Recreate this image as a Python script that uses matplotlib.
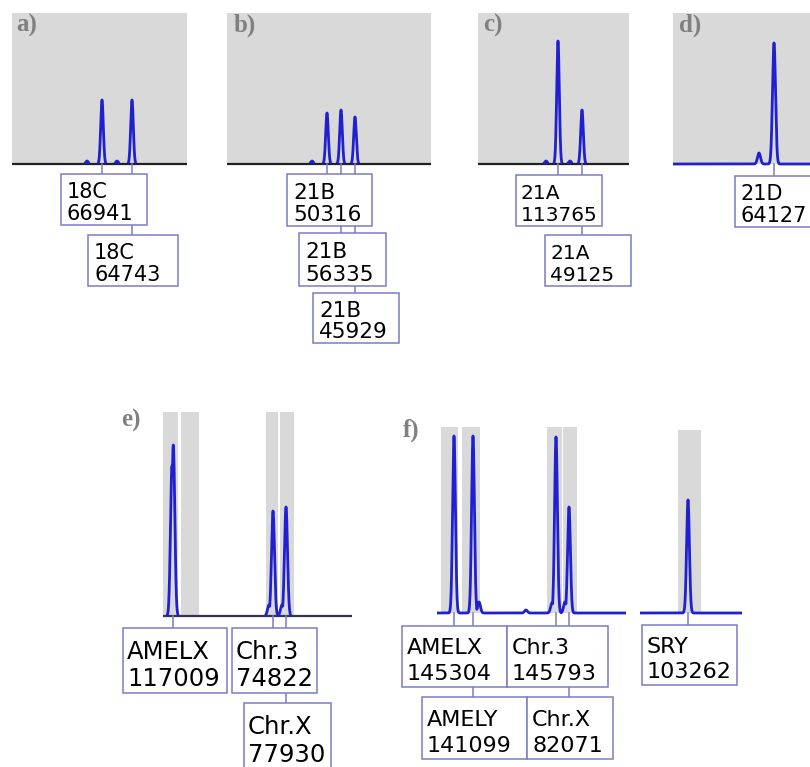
import numpy as np
import matplotlib.pyplot as plt
from matplotlib.patches import Rectangle

W, H = 810, 767

# ---- data: peak positions (px from panel left), heights (px above baseline), labels
# a) 18C
a_pos = [90, 120]
a_height = [64, 64]
a_minor_pos = [75, 105]
a_minor_height = [3, 3]
a_names = ['18C', '18C']
a_values = ['66941', '64743']

# b) 21B
b_pos = [100, 114, 128]
b_height = [51, 54, 47]
b_minor_pos = [85]
b_minor_height = [3]
b_names = ['21B', '21B', '21B']
b_values = ['50316', '56335', '45929']

# c) 21A
c_pos = [80, 104]
c_height = [123, 54]
c_minor_pos = [68, 92]
c_minor_height = [3, 3]
c_names = ['21A', '21A']
c_values = ['113765', '49125']

# d) 21D
d_pos = [101]
d_height = [121]
d_minor_pos = [86]
d_minor_height = [11]
d_names = ['21D']
d_values = ['64127']

# e) amelogenin / chr.3 / chr.X
e_pos = [10.3, 110, 123]
e_height = [171, 105, 109]
e_minor_pos = [9, 106, 119]
e_minor_height = [150, 11, 11]
e_names = ['AMELX', 'Chr.3', 'Chr.X']
e_values = ['117009', '74822', '77930']
e_bins = [(0, 15), (18, 36), (103, 115), (117, 131)]

# f) amelogenin / chr.3 / chr.X + SRY
f_pos = [17, 36, 119, 132]
f_height = [177, 177, 176, 106]
f_minor_pos = [42, 89, 115, 128]
f_minor_height = [11, 3, 10, 11]
f_names = ['AMELX', 'AMELY', 'Chr.3', 'Chr.X']
f_values = ['145304', '141099', '145793', '82071']
f_bins = [(4, 21), (25, 43), (110, 125), (126, 140)]

sry_pos = [48]
sry_height = [113]
sry_names = ['SRY']
sry_values = ['103262']
sry_bins = [(38, 61)]

# ---- styles
blue = '#2020d0'
grey = '#d9d9d9'
edge = '#7b7bc8'
letter_col = '#808080'

fig = plt.figure(figsize=(W / 100, H / 100), dpi=100)

ov = fig.add_axes([0, 0, 1, 1], zorder=5)
ov.set_xlim(0, W)
ov.set_ylim(H, 0)
ov.axis('off')
ov.patch.set_alpha(0)


def panel_axes(left, top, right, base, pad=4):
    ax = fig.add_axes([left / W, 1 - (base + pad) / H, (right - left) / W, (base + pad - top) / H])
    ax.set_xlim(0, right - left)
    ax.set_ylim(-pad, base - top)
    ax.axis('off')
    return ax


def trace(ax, pos, height, mpos, mheight, sigma=1.3, color=blue, base_col=None, lw=2.0):
    x = np.linspace(0, ax.get_xlim()[1], 4000)
    parts = [h * np.exp(-0.5 * ((x - p) / sigma) ** 2) for p, h in zip(pos + mpos, height + mheight)]
    y = np.max(parts, axis=0)
    if base_col is not None:
        ax.axhline(0, color=base_col, lw=1.6, zorder=2)
        y = np.where(y < 0.5, np.nan, y)
    ax.plot(x, y, color=color, lw=lw, zorder=3, solid_capstyle='butt')


def to_ov(ax, p):
    return ov.transData.inverted().transform(ax.transData.transform((p, 0)))


def labels(ax, pos, names, values, boxes, chains, fs, padx=6, f1=0.48, f2=0.9):
    for (l, t, r, b), n, v in zip(boxes, names, values):
        ov.add_patch(Rectangle((l, t), r - l, b - t, fc='white', ec=edge, lw=1.1, zorder=3))
        ov.text(l + padx, t + f1 * (b - t), n, fontsize=fs, family='DejaVu Sans', va='baseline', zorder=4)
        ov.text(l + padx, t + f2 * (b - t), v, fontsize=fs, family='DejaVu Sans', va='baseline', zorder=4)
    for p, chain in zip(pos, chains):
        x, y0 = to_ov(ax, p)
        ov.plot([x, x], [y0, boxes[chain[0]][1]], color=edge, lw=1.1, zorder=2)
        for i, j in zip(chain[:-1], chain[1:]):
            ov.plot([x, x], [boxes[i][3], boxes[j][1]], color=edge, lw=1.1, zorder=2)


def letter(s, x, y):
    ov.text(x, y, s, fontsize=18, family='Liberation Serif', weight='bold',
            color=letter_col, va='baseline', zorder=6)


# a)
ax = panel_axes(12, 13, 187, 164)
ax.axhspan(0, 151, color=grey, lw=0, zorder=0)
trace(ax, a_pos, a_height, a_minor_pos, a_minor_height, base_col='#222222')
labels(ax, a_pos, a_names, a_values,
       [(61, 174, 147, 225), (88, 235, 178, 286)], [[0], [0, 1]], 15)
letter('a)', 16, 32)

# b)
ax = panel_axes(227, 13, 431, 164)
ax.axhspan(0, 151, color=grey, lw=0, zorder=0)
trace(ax, b_pos, b_height, b_minor_pos, b_minor_height, base_col='#222222')
labels(ax, b_pos, b_names, b_values,
       [(287, 174, 372, 226), (299, 233, 386, 286), (313, 293, 399, 343)],
       [[0], [0, 1], [0, 1, 2]], 15.5)
letter('b)', 234, 32)

# c)
ax = panel_axes(478, 13, 629, 164)
ax.axhspan(0, 151, color=grey, lw=0, zorder=0)
trace(ax, c_pos, c_height, c_minor_pos, c_minor_height, base_col='#222222')
labels(ax, c_pos, c_names, c_values,
       [(516, 175, 602, 226), (545, 235, 631, 286)], [[0], [0, 1]], 14.5, padx=5)
letter('c)', 483, 32)

# d)
ax = panel_axes(673, 13, 810, 164)
ax.axhspan(0, 151, color=grey, lw=0, zorder=0)
trace(ax, d_pos, d_height, d_minor_pos, d_minor_height, sigma=1.5)
labels(ax, d_pos, d_names, d_values, [(735, 176, 815, 227)], [[0]], 15)
letter('d)', 679, 32)

# e)
ax = panel_axes(163, 412, 352, 616)
for x0, x1 in e_bins:
    ax.add_patch(Rectangle((x0, 0), x1 - x0, 204, color=grey, lw=0, zorder=0))
trace(ax, e_pos, e_height, e_minor_pos, e_minor_height, sigma=1.5, base_col='#343458')
labels(ax, e_pos, e_names, e_values,
       [(123, 628, 227, 693), (232, 628, 317, 693), (244, 703, 331, 768)],
       [[0], [1], [1, 2]], 17.5, padx=4)
letter('e)', 121, 427)

# f)
ax = panel_axes(437, 427, 626, 613)
for x0, x1 in f_bins:
    ax.add_patch(Rectangle((x0, 0), x1 - x0, 186, color=grey, lw=0, zorder=0))
trace(ax, f_pos, f_height, f_minor_pos, f_minor_height, sigma=1.4)
labels(ax, f_pos, f_names, f_values,
       [(402, 626, 507, 687), (422, 697, 527, 759), (507, 626, 608, 687), (527, 697, 613, 759)],
       [[0], [0, 1], [2], [2, 3]], 16, padx=5, f1=0.46, f2=0.88)
letter('f)', 403, 437)

ax = panel_axes(640, 430, 742, 613)
for x0, x1 in sry_bins:
    ax.add_patch(Rectangle((x0, 0), x1 - x0, 183, color=grey, lw=0, zorder=0))
trace(ax, sry_pos, sry_height, [], [], sigma=1.4)
labels(ax, sry_pos, sry_names, sry_values, [(642, 625, 737, 685)], [[0]], 16,
       padx=5, f1=0.46, f2=0.88)

fig.savefig('out.png', dpi=100)
